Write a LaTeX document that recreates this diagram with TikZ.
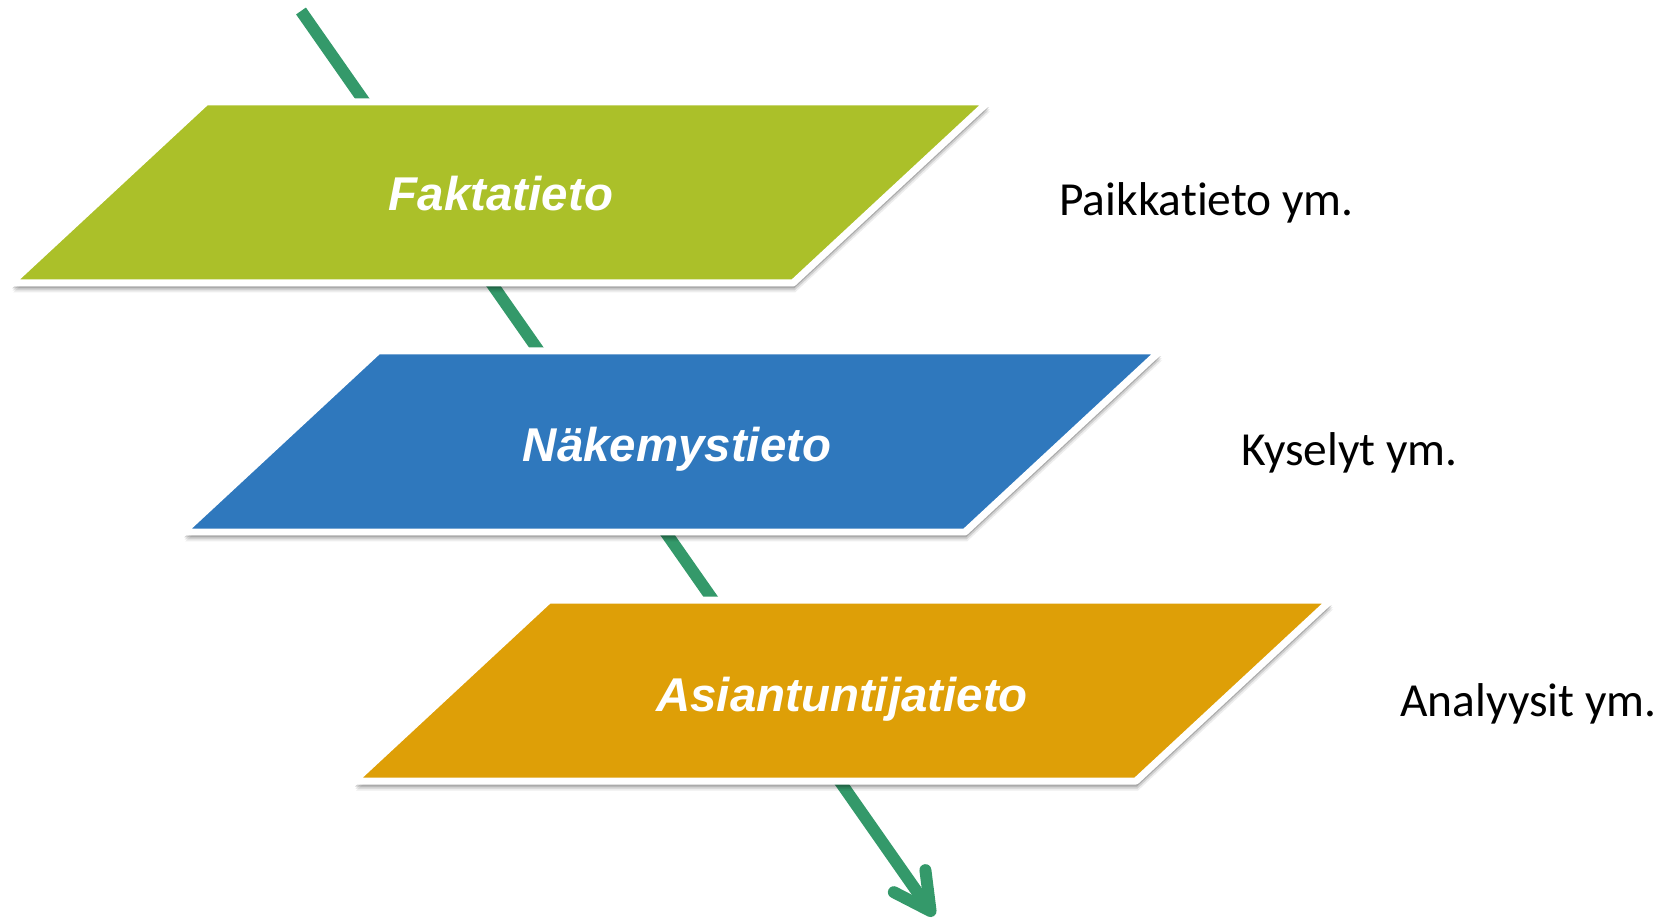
\documentclass[tikz,border=0pt]{standalone}
\usepackage{fontspec}
\usepackage{tikz}
\usetikzlibrary{arrows.meta,shadows}
\newfontfamily\carlito[Ligatures=NoCommon]{Carlito}
\newfontfamily\liberation{Liberation Sans}
\definecolor{faktagreen}{RGB}{171,192,41}
\definecolor{nakblue}{RGB}{47,120,189}
\definecolor{asiaorange}{RGB}{222,159,7}
\definecolor{flowgreen}{RGB}{52,153,106}

\begin{document}
\begin{tikzpicture}[x=0.02cm, y=-0.02cm,
              tieto/.style={draw=white, line width=0.14cm, line join=round,
                drop shadow={shadow xshift=0.04cm, shadow yshift=-0.19cm, opacity=0.07, fill=black, draw=none},
                drop shadow={shadow xshift=0.03cm, shadow yshift=-0.15cm, opacity=0.12, fill=black, draw=none},
                drop shadow={shadow xshift=0.02cm, shadow yshift=-0.11cm, opacity=0.18, fill=black, draw=none}},
              nimi/.style={text=white, inner sep=0pt, anchor=base,
                font=\liberation\bfseries\itshape\fontsize{27}{32}\selectfont},
              huom/.style={anchor=base west, inner sep=0pt,
                font=\carlito\fontsize{27}{32}\selectfont},
              flow/.style={flowgreen, line width=0.24cm,
                -{Straight Barb[length=0.73cm,width=0.77cm,round]}},
             ]
\useasboundingbox (0,0) rectangle (1666,918);
\coordinate (alku) at (301,11);
\coordinate (loppu) at (934,916);
\draw[flow] (alku) -- (loppu);
% the three levels
\draw[tieto, fill=faktagreen] (206,102) -- (988,102) -- (793,283) -- (11,283) -- cycle;
\draw[tieto, fill=nakblue] (378,351) -- (1160,351) -- (965,532) -- (183,532) -- cycle;
\draw[tieto, fill=asiaorange] (549,600) -- (1331,600) -- (1136,781) -- (354,781) -- cycle;
\node[nimi] (fakta) at (501,211) {Faktatieto};
\node[nimi] (nakemys) at (677,461) {Näkemystieto};
\node[nimi] (asiantuntija) at (842,711) {Asiantuntijatieto};
% notes on the right
\node[huom] (paikka) at (1059,216) {Paikkatieto ym.};
\node[huom] (kysely) at (1241,466) {Kyselyt ym.};
\node[huom] (analyysi) at (1400,716) {Analyysit ym.};
\end{tikzpicture}
\end{document}
